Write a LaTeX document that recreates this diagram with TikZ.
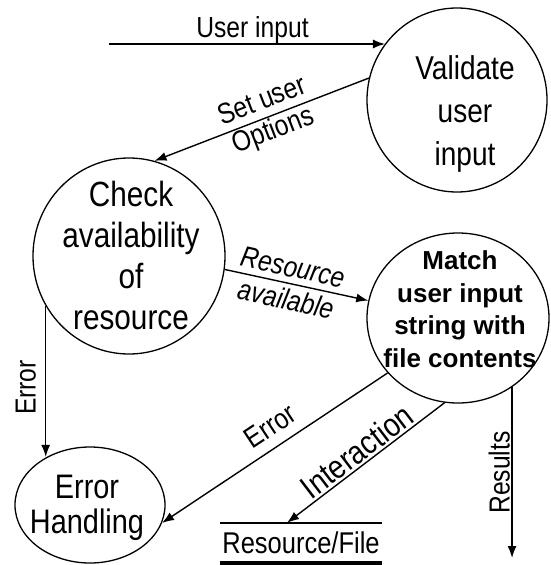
\documentclass[tikz,border=0pt]{standalone}
\usepackage{fontspec}
\setmainfont{Liberation Sans}[FakeStretch=0.85]
\newfontfamily\widesans{Liberation Sans}
\usetikzlibrary{shapes.geometric,arrows.meta}
\begin{document}
\begin{tikzpicture}[x=1pt,y=-1pt,
  bubble/.style={draw, ellipse, line width=1.3pt, inner sep=0pt},
  bubbletext/.style={align=center, inner sep=0pt},
  flow/.style={draw, line width=1.4pt, -{Latex[length=12pt,width=9pt]}},
  lbl/.style={inner sep=0pt, align=center, font=\fontsize{29}{31}\selectfont}]
\fill[white] (0,0) rectangle (550,565);
\useasboundingbox (0,0) rectangle (550,565);

% processes
\node[bubble, minimum width=180pt, minimum height=184pt] (validate) at (457,100) {};
\node[bubble, minimum width=192pt, minimum height=196pt] (check) at (129,256) {};
\node[bubble, minimum width=182pt, minimum height=170pt] (match) at (458,318) {};
\node[bubble, minimum width=150pt, minimum height=116pt] (errh) at (90,505) {};

\node[bubbletext, font=\fontsize{33}{43}\selectfont] (validate-t) at (465,114) {Validate\\user\\input};
\node[bubbletext, font=\fontsize{35}{41}\selectfont] (check-t) at (131,255) {Check\\availability\\of\\resource};
\node[bubbletext, font=\widesans\bfseries\fontsize{26}{32.5}\selectfont] (match-t) at (460,309) {Match\\user input\\string with\\file contents};
\node[bubbletext, font=\fontsize{34}{35}\selectfont] (errh-t) at (87,508) {Error\\Handling};

% data store
\node[inner sep=0pt, minimum width=162pt, minimum height=40pt, font=\fontsize{30}{32}\selectfont] (store) at (301,543) {Resource/File};
\draw[line width=1.4pt] (store.north west) -- (store.north east);
\draw[line width=4pt] (store.south west) -- (store.south east);

% external input and output ends
\coordinate (uin) at (109,44);
\coordinate (rend) at (513,558);

% flows
\draw[flow] (uin) -- (uin -| validate.142)
  node[lbl, above, pos=0.52] (l-uin) {User input};
\draw[flow] (validate.166) -- (check.75)
  node[lbl, sloped, pos=0.47] (l-opt) {Set user\\Options};
\draw[flow] (check.-8) -- (match.169)
  node[lbl, sloped, pos=0.45, font=\itshape\fontsize{29}{33}\selectfont] (l-avail) {Resource\\available};
\draw[flow] (check.211) -- (check.211 |- errh.132)
  node[lbl, rotate=90, anchor=south, pos=0.54, inner sep=9pt] (l-err1) {Error};
\draw[flow] (match.218) -- (errh.-14)
  node[lbl, sloped, above, pos=0.47, inner sep=10pt] (l-err2) {Error};
\draw[flow] (match.261) -- ([xshift=-14pt]store.north)
  node[lbl, sloped, above, pos=0.5, inner sep=2pt, font=\fontsize{33}{36}\selectfont] (l-inter) {Interaction};
\draw[flow] (match.308) -- (match.308 |- rend)
  node[lbl, rotate=90, anchor=south, pos=0.5, inner sep=1.5pt] (l-res) {Results};
\end{tikzpicture}
\end{document}
